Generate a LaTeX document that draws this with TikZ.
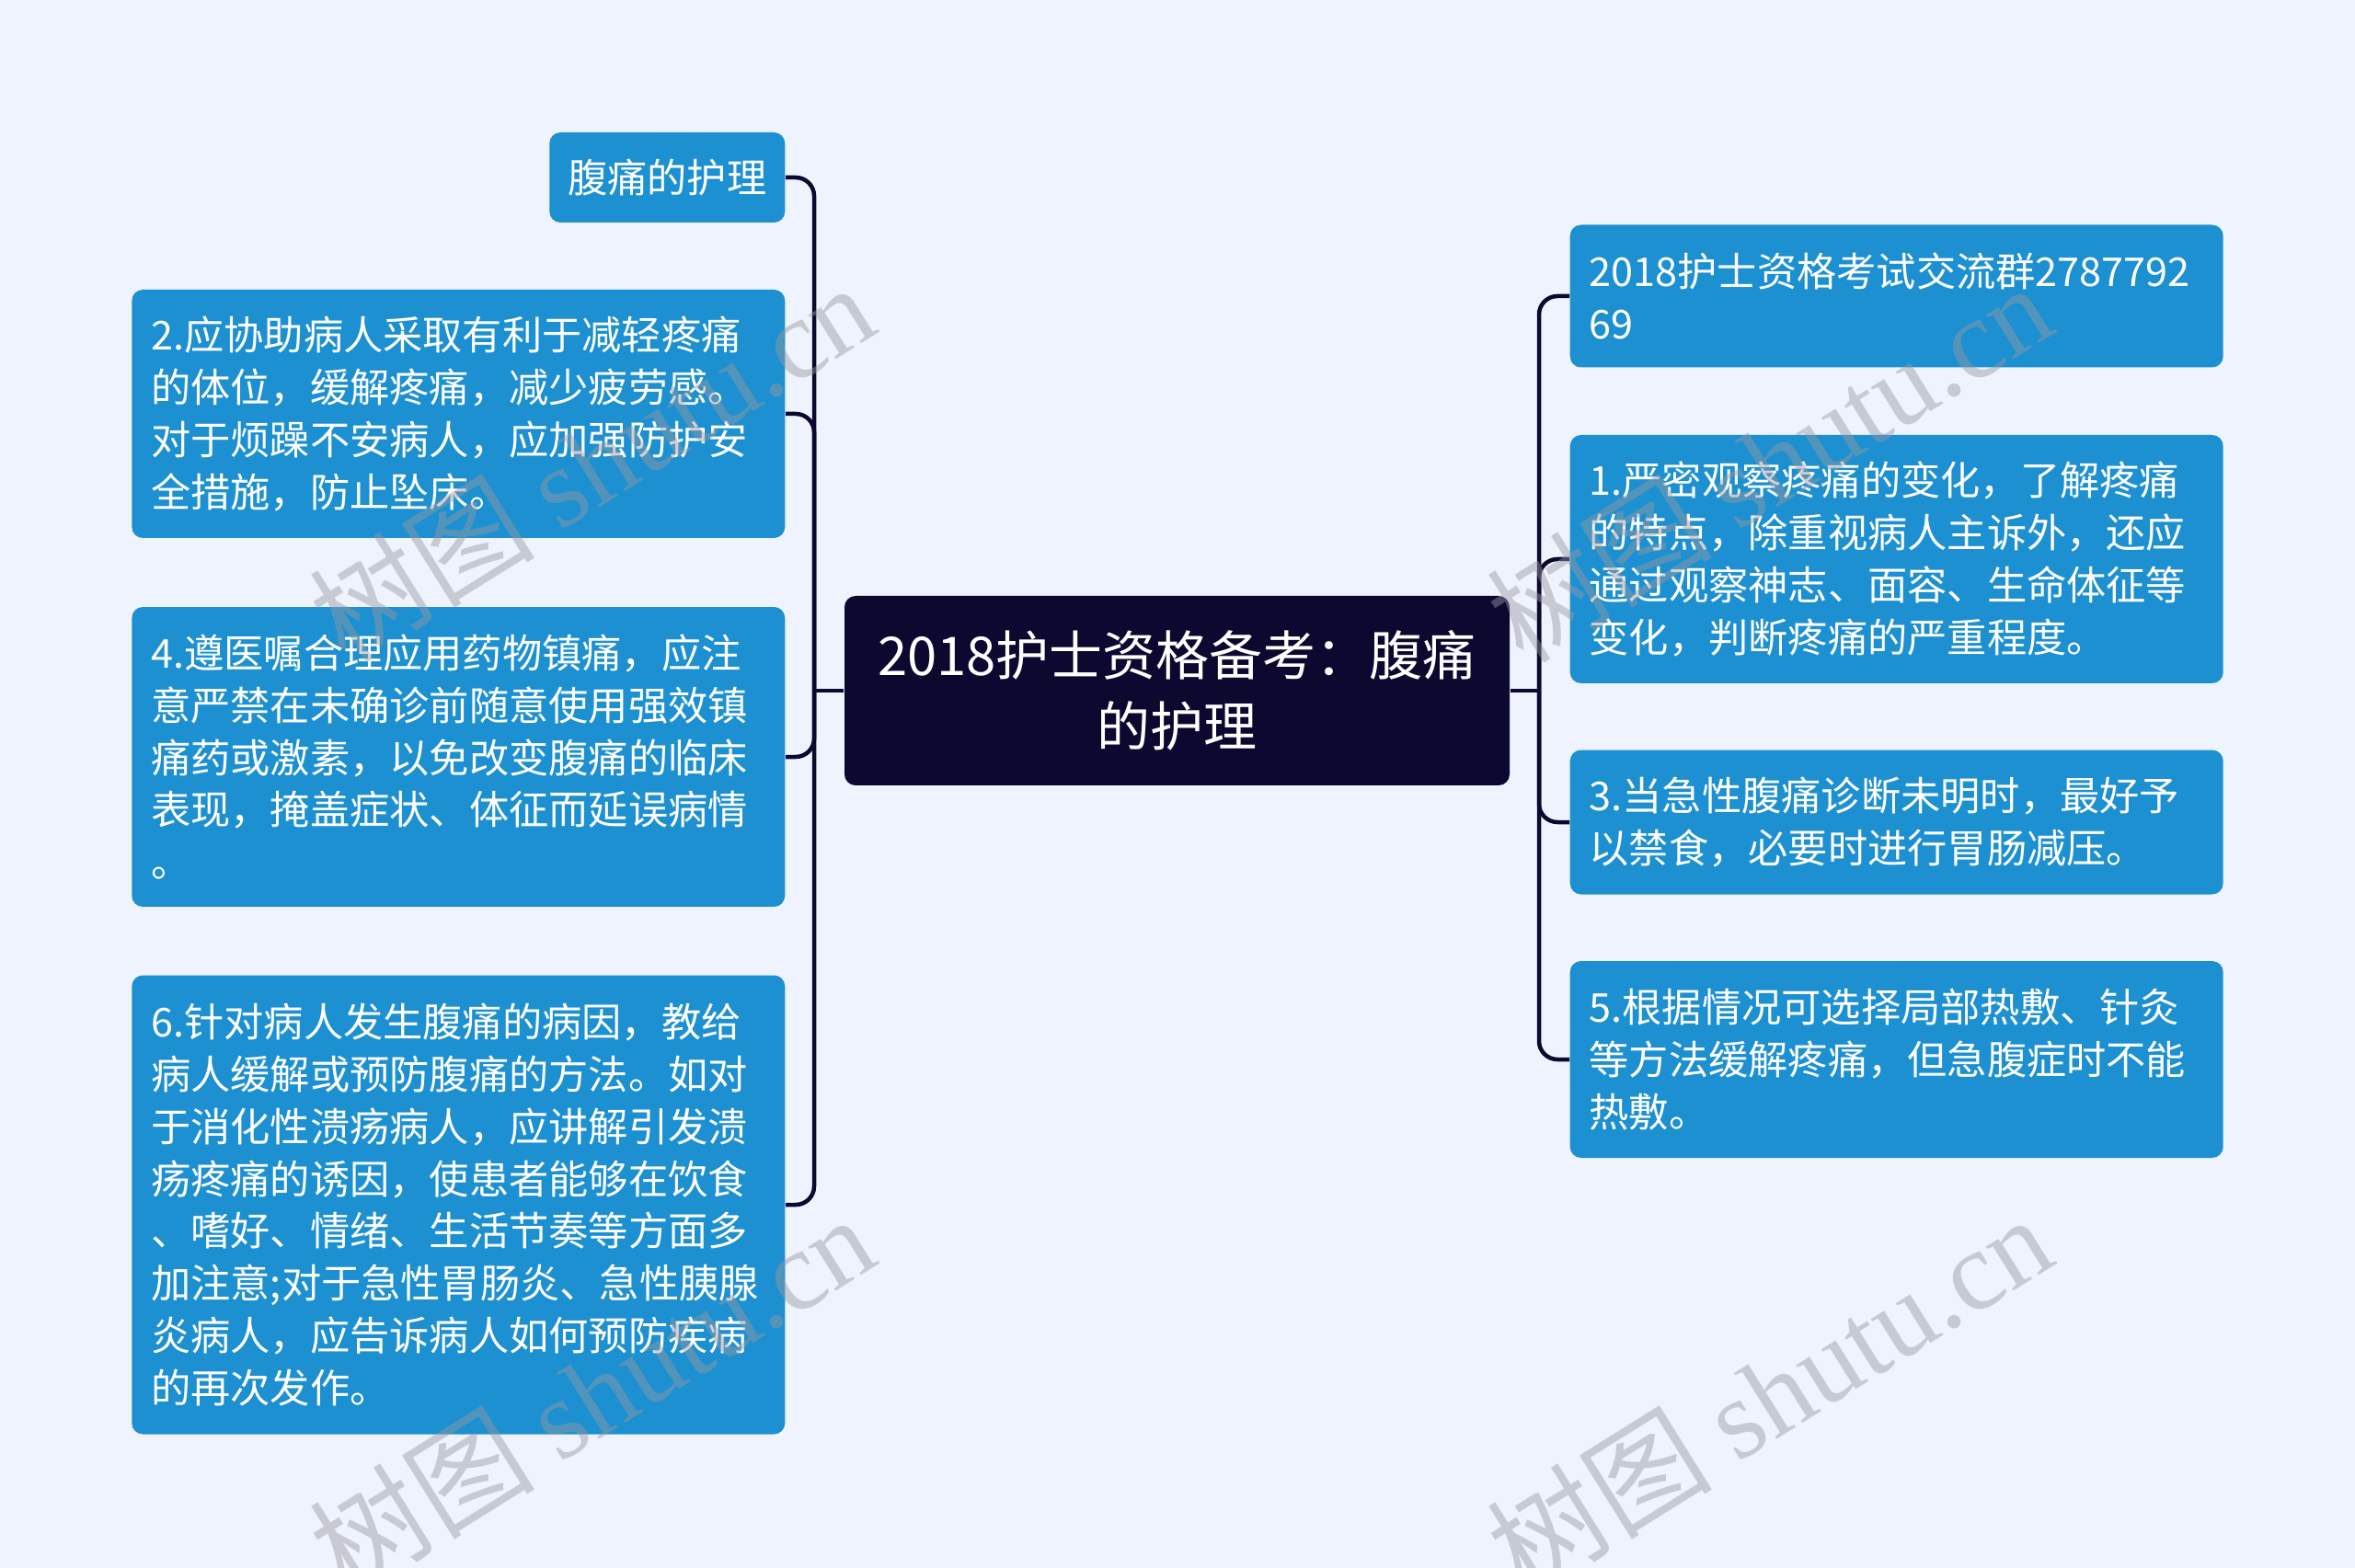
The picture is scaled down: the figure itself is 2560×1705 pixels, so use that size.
\documentclass[tikz,border=0pt]{standalone}
\usepackage{fontspec}
\setmainfont{Noto Sans CJK SC}
\newfontfamily\markfont{Liberation Serif}
\usetikzlibrary{positioning}
\definecolor{bgblue}{HTML}{EEF3FE}
\definecolor{leafblue}{HTML}{1C90D0}
\definecolor{navy}{HTML}{0C0830}
\definecolor{markgray}{HTML}{9A9AA0}

\begin{document}
\begin{tikzpicture}[x=0.1mm,y=-0.1mm]
\tikzstyle{topic} = [rectangle, fill=navy, text=white, rounded corners=1.2mm,
minimum width=72.3mm, minimum height=20.6mm, align=center,
font=\fontsize{16.5pt}{22pt}\selectfont]
\tikzstyle{leaf} = [rectangle, fill=leafblue, text=white, rounded corners=1.2mm,
text width=66.8mm, inner xsep=2.1mm, inner ysep=1mm, align=left,
font=\fontsize{12.3pt}{16.2pt}\selectfont]
\tikzstyle{tag} = [rectangle, fill=leafblue, text=white, rounded corners=1.2mm,
minimum width=25.6mm, minimum height=9.8mm, font=\fontsize{12.3pt}{16.2pt}\selectfont]
\tikzstyle{line} = [draw=navy, line width=0.45mm, rounded corners=2mm];
\tikzstyle{wmark} = [text=markgray, text opacity=0.45, rotate=32,
font=\fontsize{35pt}{40pt}\selectfont];
\useasboundingbox (0,0) rectangle (2560,1705);
\clip (0,0) rectangle (2560,1705);
\fill [bgblue] (0,0) rectangle (2560,1705);
% centre
\node [topic] (cen) at (1279.5,751) {2018护士资格备考：腹痛\\的护理};
% left side
\node [tag, anchor=east] (care) at (854,193) {腹痛的护理};
\node [leaf, anchor=east, minimum height=27mm] (posture) at (854,450) {2.应协助病人采取有利于减轻疼痛\\的体位，缓解疼痛，减少疲劳感。\\对于烦躁不安病人，应加强防护安\\全措施，防止坠床。};
\node [leaf, anchor=east, minimum height=32.6mm] (drug) at (854,823) {4.遵医嘱合理应用药物镇痛，应注\\意严禁在未确诊前随意使用强效镇\\痛药或激素，以免改变腹痛的临床\\表现，掩盖症状、体征而延误病情\\。};
\node [leaf, anchor=east, minimum height=49.9mm] (teach) at (854,1310) {6.针对病人发生腹痛的病因，教给\\病人缓解或预防腹痛的方法。如对\\于消化性溃疡病人，应讲解引发溃\\疡疼痛的诱因，使患者能够在饮食\\、嗜好、情绪、生活节奏等方面多\\加注意;对于急性胃肠炎、急性胰腺\\炎病人，应告诉病人如何预防疾病\\的再次发作。};
% right side
\node [leaf, anchor=west, minimum height=15.5mm] (group) at (1706,322) {2018护士资格考试交流群2787792\\69};
\node [leaf, anchor=west, minimum height=27mm] (observe) at (1706,608) {1.严密观察疼痛的变化，了解疼痛\\的特点，除重视病人主诉外，还应\\通过观察神志、面容、生命体征等\\变化，判断疼痛的严重程度。};
\node [leaf, anchor=west, minimum height=15.7mm] (fast) at (1706,894) {3.当急性腹痛诊断未明时，最好予\\以禁食，必要时进行胃肠减压。};
\node [leaf, anchor=west, minimum height=21.4mm] (heat) at (1706,1152) {5.根据情况可选择局部热敷、针灸\\等方法缓解疼痛，但急腹症时不能\\热敷。};
% connectors
\coordinate (lhub) at (885,751);
\coordinate (rhub) at (1673,751);
\draw [line] (cen.west) -- (lhub);
\draw [line] (lhub) |- (care.east);
\draw [line] (lhub) |- (posture.east);
\draw [line] (lhub) |- (drug.east);
\draw [line] (lhub) |- (teach.east);
\draw [line] (cen.east) -- (rhub);
\draw [line] (rhub) |- (group.west);
\draw [line] (rhub) |- (observe.west);
\draw [line] (rhub) |- (fast.west);
\draw [line] (rhub) |- (heat.west);
% watermarks
\node [wmark] (mark1) at (643,502) {树图 {\markfont shutu.cn}};
\node [wmark] (mark2) at (1923,502) {树图 {\markfont shutu.cn}};
\node [wmark] (mark3) at (643,1515) {树图 {\markfont shutu.cn}};
\node [wmark] (mark4) at (1923,1515) {树图 {\markfont shutu.cn}};
\end{tikzpicture}
\end{document}
